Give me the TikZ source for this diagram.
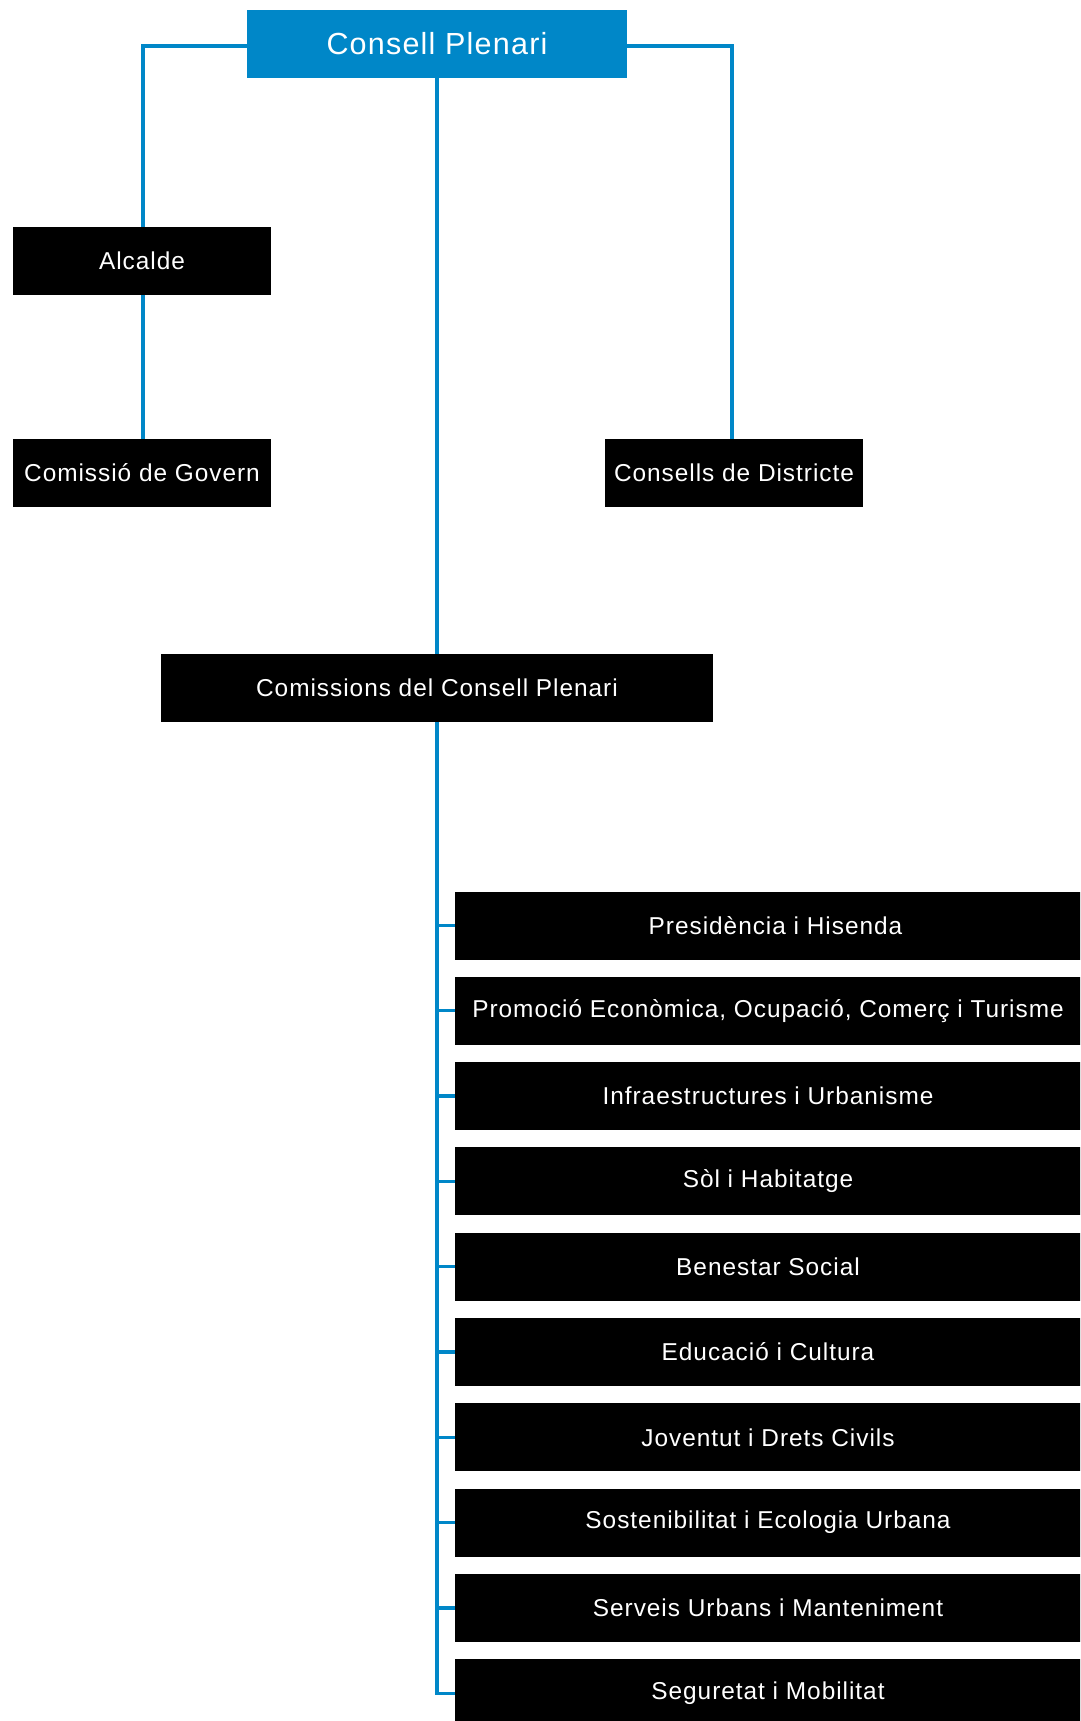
\documentclass[tikz,border=0pt]{standalone}
\usepackage{fontspec}
\setmainfont{Liberation Sans}[LetterSpace=4]
\definecolor{cblue}{RGB}{0,135,200}
\begin{document}
\begin{tikzpicture}[x=1pt,y=-1pt,
  blk/.style={fill=black,text=white,minimum height=68pt,inner sep=0pt,font=\fontsize{24.4}{28}\selectfont},
  topbox/.style={fill=cblue,text=white,minimum height=68pt,minimum width=380pt,inner sep=0pt,font=\fontsize{30.5}{34}\selectfont},
  conn/.style={draw=cblue,line width=3.3pt,line join=miter}]
\useasboundingbox (0,0) rectangle (1080,1721);
\clip (0,0) rectangle (1080,1721);
\node[topbox] (cp) at (437,44) {Consell Plenari};
\node[blk,minimum width=258pt] (alc) at (142,261) {Alcalde};
\node[blk,minimum width=258pt] (gov) at (142,473) {Comissió de Govern};
\node[blk,minimum width=258pt] (dis) at (734,473) {Consells de Districte};
\node[blk,minimum width=552pt] (com) at (437,688) {Comissions del Consell Plenari};
\foreach \i/\t in {0/{\hspace*{15pt}Presidència i Hisenda},1/{Promoció Econòmica, Ocupació, Comerç i Turisme},2/{Infraestructures i Urbanisme},3/{Sòl i Habitatge},4/{Benestar Social},5/{Educació i Cultura},6/{Joventut i Drets Civils},7/{Sostenibilitat i Ecologia Urbana},8/{Serveis Urbans i Manteniment},9/{Seguretat i Mobilitat}}{
  \node[blk,minimum width=626pt] (c\i) at (768,925.5+85.3*\i) {\t};
}
\coordinate (jl) at (143,46);
\coordinate (jr) at (732,46);
\draw[conn] (cp.west |- jl) -- (jl) -- (alc.north -| jl);
\draw[conn] (alc.south -| jl) -- (gov.north -| jl);
\draw[conn] (cp.east |- jr) -- (jr) -- (dis.north -| jr);
\draw[conn] (cp.south) -- (com.north);
\draw[conn] (com.south) -- (com.south |- c9.west) -- (c9.west);
\foreach \i in {0,...,8}{
  \draw[conn] (com.south |- c\i.west) -- (c\i.west);
}
\end{tikzpicture}
\end{document}
